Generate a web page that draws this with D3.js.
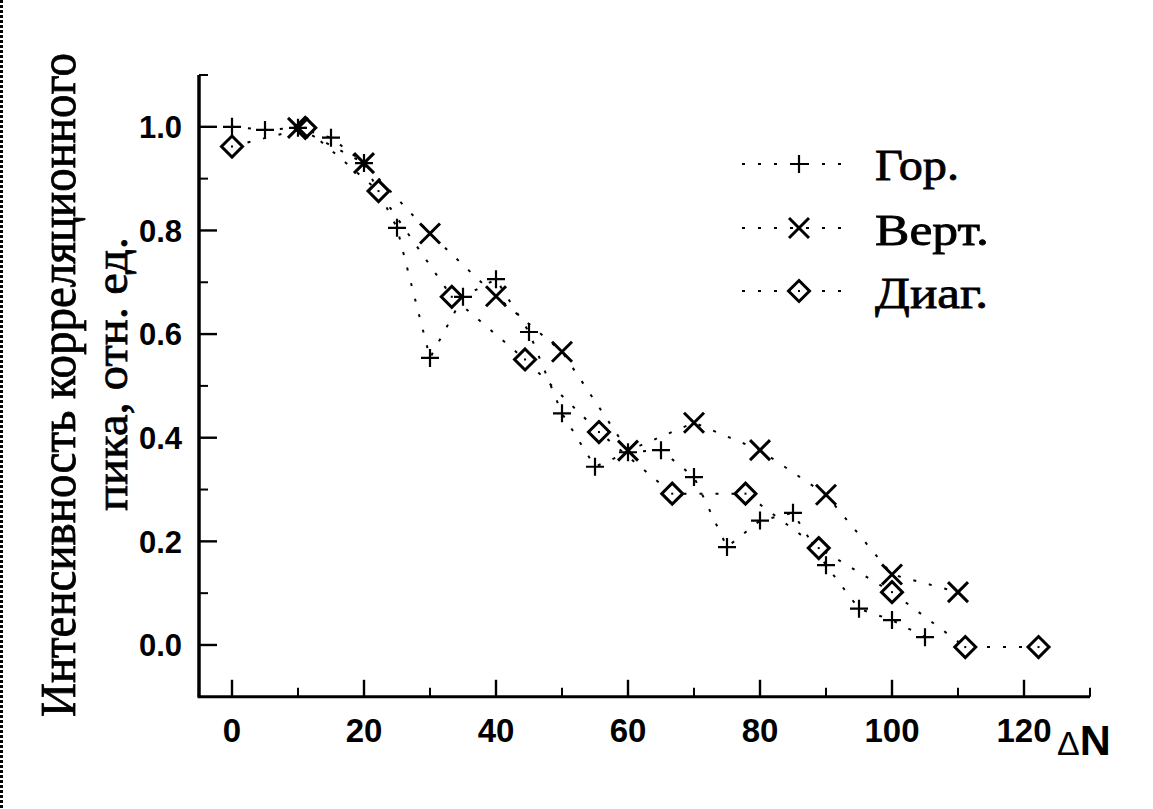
<!DOCTYPE html>
<html>
<head>
<meta charset="utf-8">
<script src="https://cdn.jsdelivr.net/npm/d3@7"></script>
<style>
  html, body { margin: 0; padding: 0; background: #fff; }
  svg { display: block; }
</style>
</head>
<body>
<svg id="chart" width="1153" height="809"></svg>
<script>
// ---- data ----
const horX = [0, 5, 10, 15, 20, 25, 30, 35, 40, 45, 50, 55, 60, 65, 70, 75, 80, 85, 90, 95, 100, 105];
const horY = [1.0, 0.994, 0.998, 0.979, 0.93, 0.805, 0.554, 0.672, 0.706, 0.604, 0.447, 0.344, 0.372, 0.376, 0.324, 0.189, 0.240, 0.255, 0.154, 0.070, 0.048, 0.015];

const verX = [10, 20, 30, 40, 50, 60, 70, 80, 90, 100, 110];
const verY = [0.998, 0.93, 0.794, 0.673, 0.566, 0.375, 0.429, 0.376, 0.290, 0.136, 0.102];

const diaX = [0, 11.1, 22.2, 33.3, 44.4, 55.6, 66.7, 77.8, 88.9, 100, 111.1, 122.2];
const diaY = [0.962, 0.998, 0.876, 0.672, 0.551, 0.411, 0.292, 0.292, 0.187, 0.102, -0.004, -0.004];

const seriesNames = ["Гор.", "Верт.", "Диаг."];
const xTickValues = [0, 20, 40, 60, 80, 100, 120];
const yTickValues = [0.0, 0.2, 0.4, 0.6, 0.8, 1.0];
const yLabelLines = ["Интенсивность корреляционного", "пика, отн. ед."];

// ---- setup ----
const svg = d3.select("#chart");
const x = d3.scaleLinear().domain([-5, 130]).range([199, 1090]);
const y = d3.scaleLinear().domain([-0.1, 1.1]).range([696.8, 75]);

// scan edge artifact
svg.append("line").attr("x1", 1.5).attr("x2", 1.5).attr("y1", 0).attr("y2", 809)
  .attr("stroke", "#000").attr("stroke-width", 3).attr("stroke-dasharray", "3,2");

const markerPaths = {
  plus: "M-9,0H9M0,-9V9",
  times: "M-10,-10L10,10M-10,10L10,-10",
  diamond: "M0,-10.5L10.5,0L0,10.5L-10.5,0Z"
};

const series = [
  { name: seriesNames[0], xs: horX, ys: horY, marker: "plus", sw: 2.2 },
  { name: seriesNames[1], xs: verX, ys: verY, marker: "times", sw: 3 },
  { name: seriesNames[2], xs: diaX, ys: diaY, marker: "diamond", sw: 3 }
];

const line = d3.line().x(d => x(d[0])).y(d => y(d[1]));

// lines first
series.forEach(s => {
  const pts = s.xs.map((v, i) => [v, s.ys[i]]);
  svg.append("path").datum(pts).attr("d", line)
    .attr("fill", "none").attr("stroke", "#000").attr("stroke-width", 2)
    .attr("stroke-dasharray", "3,13");
});

function drawMarker(g, type, sw) {
  g.append("path").attr("d", markerPaths[type])
    .attr("fill", type === "diamond" ? "#fff" : "none")
    .attr("stroke", "#000").attr("stroke-width", sw);
  if (type === "diamond") {
    g.append("rect").attr("x", -1).attr("y", -1).attr("width", 2).attr("height", 2).attr("fill", "#000");
  }
}

// markers: diamonds, times, plus order
[series[2], series[1], series[0]].forEach(s => {
  s.xs.forEach((v, i) => {
    const g = svg.append("g").attr("transform", `translate(${x(v)},${y(s.ys[i])})`);
    drawMarker(g, s.marker, s.sw);
  });
});

// ---- axes ----
const axisG = svg.append("g");
axisG.append("line").attr("x1", x(-5)).attr("x2", x(-5)).attr("y1", y(1.1)).attr("y2", y(-0.1))
  .attr("stroke", "#000").attr("stroke-width", 3.5);
axisG.append("line").attr("x1", x(-5) - 1.5).attr("x2", x(130)).attr("y1", y(-0.1)).attr("y2", y(-0.1))
  .attr("stroke", "#000").attr("stroke-width", 3);

// y ticks (inward)
const yMinor = d3.range(-1, 12, 2).map(v => v / 10).filter(v => v > -0.1);
yTickValues.forEach(v => {
  axisG.append("line").attr("x1", x(-5)).attr("x2", x(-5) + 18).attr("y1", y(v)).attr("y2", y(v))
    .attr("stroke", "#000").attr("stroke-width", 2.4);
});
yMinor.concat([1.1]).forEach(v => {
  axisG.append("line").attr("x1", x(-5)).attr("x2", x(-5) + 9).attr("y1", y(v)).attr("y2", y(v))
    .attr("stroke", "#000").attr("stroke-width", 2);
});
// x ticks (inward / up)
xTickValues.forEach(v => {
  axisG.append("line").attr("x1", x(v)).attr("x2", x(v)).attr("y1", y(-0.1)).attr("y2", y(-0.1) - 17)
    .attr("stroke", "#000").attr("stroke-width", 2.4);
});
d3.range(10, 140, 20).forEach(v => {
  axisG.append("line").attr("x1", x(v)).attr("x2", x(v)).attr("y1", y(-0.1)).attr("y2", y(-0.1) - 9)
    .attr("stroke", "#000").attr("stroke-width", 2);
});

// tick labels
axisG.selectAll(".ylab").data(yTickValues).enter().append("text")
  .attr("x", 182).attr("y", d => y(d)).attr("dy", "0.36em")
  .attr("text-anchor", "end")
  .attr("font-family", "'Liberation Sans', Arial, sans-serif").attr("font-weight", "bold")
  .attr("font-size", 31).text(d => d.toFixed(1));

axisG.selectAll(".xlab").data(xTickValues).enter().append("text")
  .attr("x", d => x(d)).attr("y", 742)
  .attr("text-anchor", "middle")
  .attr("font-family", "'Liberation Sans', Arial, sans-serif").attr("font-weight", "bold")
  .attr("font-size", 33).text(d => d);

// ΔN
const dn = svg.append("text").attr("x", 1057).attr("y", 755)
  .attr("font-family", "'Liberation Sans', Arial, sans-serif");
dn.append("tspan").attr("font-size", 34).text("Δ");
dn.append("tspan").attr("font-size", 43).attr("font-weight", "bold").text("N");

// y label
const ylab = [
  { text: yLabelLines[0], x: 75, cy: 385, len: 664, fs: 44, k: 1.15 },
  { text: yLabelLines[1], x: 127, cy: 374, len: 274, fs: 43, k: 1.1 }
];
ylab.forEach(l => {
  svg.append("text")
    .attr("transform", `translate(${l.x},${l.cy}) rotate(-90) scale(1,${l.k})`)
    .attr("text-anchor", "middle")
    .attr("font-family", "'Liberation Serif', 'Times New Roman', serif")
    .attr("font-size", l.fs)
    .attr("stroke", "#000").attr("stroke-width", 0.7)
    .attr("textLength", l.len).attr("lengthAdjust", "spacingAndGlyphs")
    .text(l.text);
});

// legend
const legendRows = [
  { s: series[0], cy: 164, ty: 180, tl: 84 },
  { s: series[1], cy: 228, ty: 245, tl: 114 },
  { s: series[2], cy: 291, ty: 308, tl: 113 }
];
legendRows.forEach(r => {
  svg.append("line").attr("x1", 742).attr("x2", 846).attr("y1", r.cy).attr("y2", r.cy)
    .attr("stroke", "#000").attr("stroke-width", 2).attr("stroke-dasharray", "3,13");
  const g = svg.append("g").attr("transform", `translate(799,${r.cy})`);
  drawMarker(g, r.s.marker, r.s.sw);
  svg.append("text").attr("x", 875).attr("y", r.ty)
    .attr("font-family", "'Liberation Serif', 'Times New Roman', serif")
    .attr("font-size", 45)
    .attr("stroke", "#000").attr("stroke-width", 0.8)
    .attr("textLength", r.tl).attr("lengthAdjust", "spacingAndGlyphs")
    .text(r.s.name);
});
</script>
</body>
</html>
